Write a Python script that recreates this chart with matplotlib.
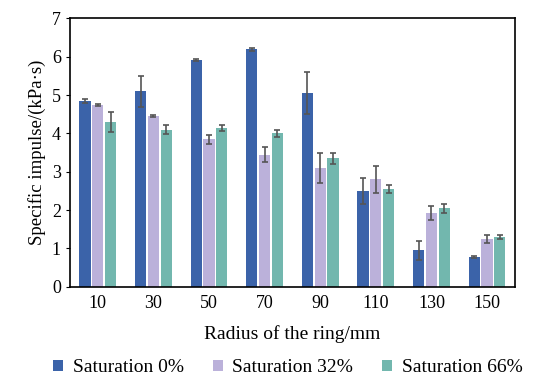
import numpy as np
import matplotlib
matplotlib.use("Agg")
import matplotlib.pyplot as plt

plt.rcParams['font.family'] = ['Liberation Serif', 'DejaVu Serif']

radius = ['10', '30', '50', '70', '90', '110', '130', '150']
sat0 = [4.85, 5.1, 5.92, 6.2, 5.05, 2.5, 0.95, 0.78]
sat0_err = [0.05, 0.4, 0.02, 0.04, 0.55, 0.35, 0.25, 0.03]
sat32 = [4.75, 4.45, 3.85, 3.45, 3.1, 2.8, 1.92, 1.25]
sat32_err = [0.03, 0.02, 0.12, 0.2, 0.38, 0.35, 0.18, 0.1]
sat66 = [4.3, 4.1, 4.15, 4.0, 3.35, 2.55, 2.05, 1.3]
sat66_err = [0.25, 0.12, 0.08, 0.1, 0.15, 0.1, 0.12, 0.05]

labels = ['Saturation 0%', 'Saturation 32%', 'Saturation 66%']
colors = ['#3b63a9', '#bbb1da', '#72b7ae']

fig = plt.figure(figsize=(5.38, 3.85), dpi=100)
ax = fig.add_axes([0.130, 0.255, 0.827, 0.697])

x = np.arange(len(radius))
w = 0.2
step = 0.23
ekw = dict(ecolor='#555555', elinewidth=1.2, capsize=2.5, capthick=1.2)
for i, (vals, errs) in enumerate([(sat0, sat0_err), (sat32, sat32_err), (sat66, sat66_err)]):
    ax.bar(x + (i - 1) * step, vals, w, yerr=errs, color=colors[i],
           label=labels[i], error_kw=ekw)

ax.set_xlim(-0.5, len(radius) - 0.5)
ax.set_ylim(0, 7)
ax.set_yticks(range(0, 8))
ax.set_xticks(x)
ax.set_xticklabels(radius)
ax.tick_params(axis='x', length=0, labelsize=13, pad=6)
ax.tick_params(axis='y', labelsize=13, direction='out', length=3)
for s in ax.spines.values():
    s.set_linewidth(1.2)
ax.set_xlabel('Radius of the ring/mm', fontsize=14, labelpad=9)
ax.set_ylabel('Specific impulse/(kPa·s)', fontsize=13.5)

ax.legend(loc='upper center', bbox_to_anchor=(0.49, -0.205), ncol=3,
          frameon=False, fontsize=14, handlelength=0.5, handleheight=0.5,
          columnspacing=1.5, handletextpad=0.5)

fig.savefig('out.png', dpi=100)
